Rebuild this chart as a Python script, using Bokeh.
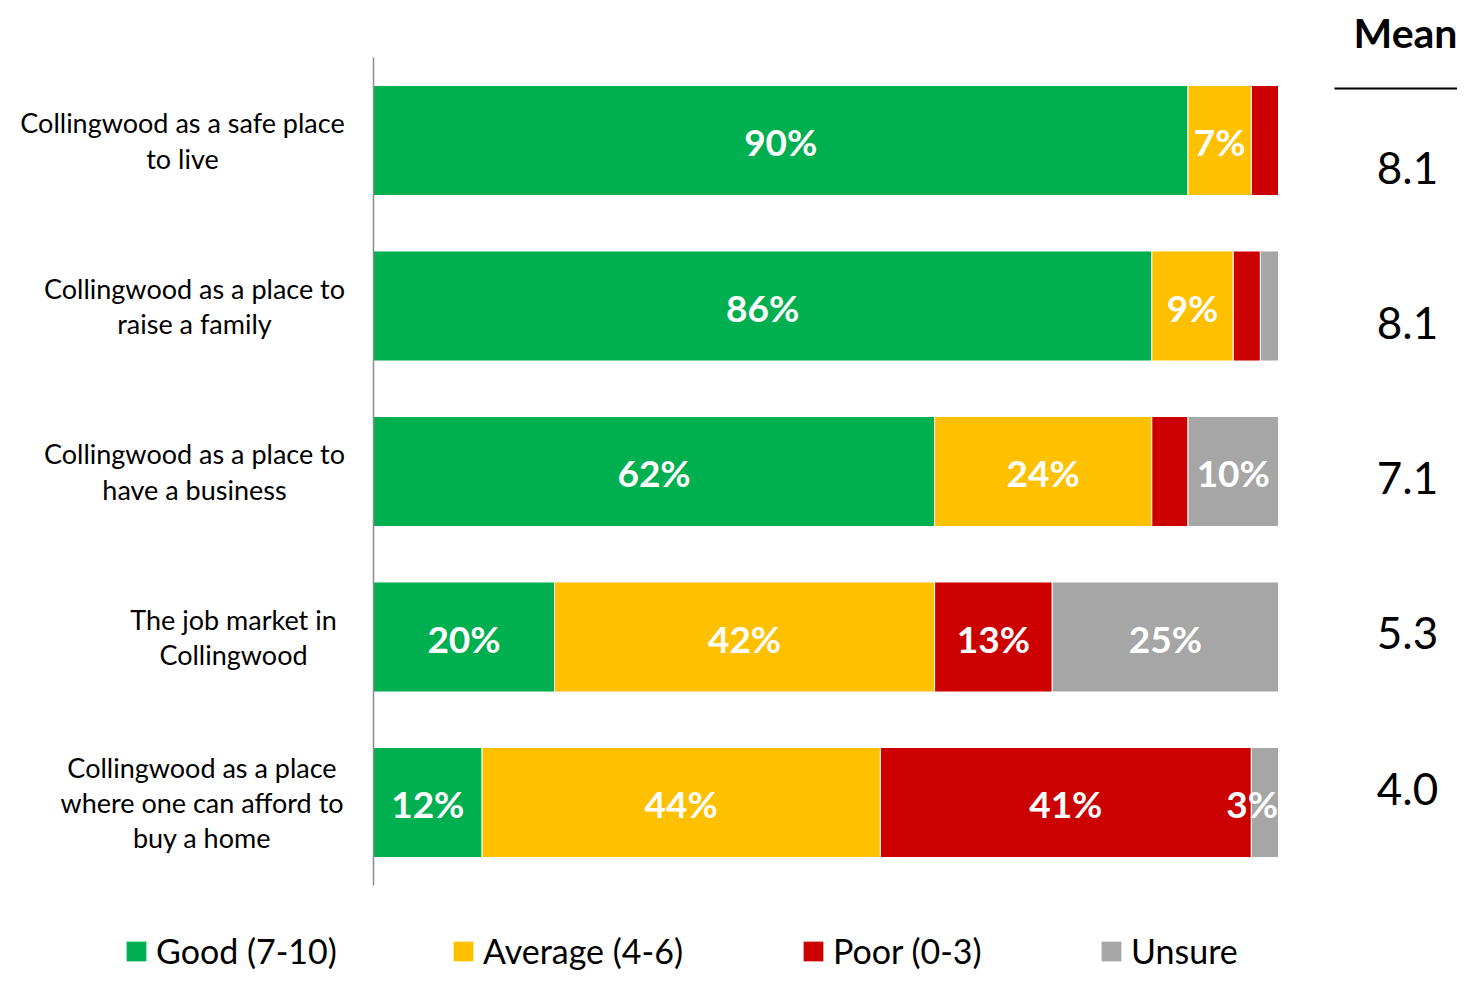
from bokeh.plotting import figure
from bokeh.models import ColumnDataSource, Range1d, Legend, LegendItem
from bokeh.core.properties import value
from bokeh.embed import file_html
from bokeh.resources import INLINE

# ---------------- data ----------------
categories = [
    "Collingwood as a safe place\nto live",
    "Collingwood as a place to\nraise a family",
    "Collingwood as a place to\nhave a business",
    "The job market in\nCollingwood",
    "Collingwood as a place\nwhere one can afford to\nbuy a home",
]
good = [90, 86, 62, 20, 12]
average = [7, 9, 24, 42, 44]
poor = [3, 3, 4, 13, 41]
unsure = [0, 2, 10, 25, 3]
means = ["8.1", "8.1", "7.1", "5.3", "4.0"]
series_names = ["Good (7-10)", "Average (4-6)", "Poor (0-3)", "Unsure"]
series_keys = ["good", "average", "poor", "unsure"]
# labels not drawn in the reference (series, row)
hidden_labels = {("poor", 0), ("poor", 1), ("unsure", 1), ("poor", 2), ("unsure", 0)}

# ---------------- style ----------------
colors = ["#00B050", "#FFC000", "#CC0000", "#A6A6A6"]
FONT = "Lato"
W, H = 1457, 971
PX_PER_PCT = 9.05          # 100% = 905 px
LEFT_PX = 373              # px where 0% sits
ROW0_PX = 140              # px (from top) of first row centre
ROW_PITCH = 165.5

x0 = -LEFT_PX / PX_PER_PCT
x1 = x0 + W / PX_PER_PCT
y_top = -ROW0_PX / ROW_PITCH
y_bot = y_top + H / ROW_PITCH

def px_x(px):   # px -> data x
    return x0 + px / PX_PER_PCT

def px_y(px):   # px from top -> data y
    return y_top + px / ROW_PITCH

p = figure(width=W, height=H, output_backend="svg", toolbar_location=None,
           x_range=Range1d(x0, x1), y_range=Range1d(y_bot, y_top),
           min_border=0, outline_line_color=None)
p.xaxis.visible = False
p.yaxis.visible = False
p.grid.visible = False

rows = list(range(len(categories)))
src = ColumnDataSource(dict(y=rows, good=good, average=average, poor=poor, unsure=unsure))
renderers = p.hbar_stack(series_keys, y="y", height=0.665, color=colors, source=src,
                         line_color="white", line_width=1)

# vertical axis line
p.segment(x0=[0], y0=[px_y(57)], x1=[0], y1=[px_y(885)],
          line_color="#8C8C8C", line_width=1.5)

# data labels
lx, ly, lt = [], [], []
vals = dict(good=good, average=average, poor=poor, unsure=unsure)
for i in rows:
    left = 0
    for k in series_keys:
        v = vals[k][i]
        if v > 0 and (k, i) not in hidden_labels:
            c = left + v / 2
            c = min(c, 100 - 2.9)
            lx.append(c); ly.append(i); lt.append(f"{v}%")
        left += v
p.text(x=lx, y=ly, text=lt, text_color="white", text_font=value(FONT),
       text_font_style="bold", text_font_size="37px", text_align="center",
       text_baseline="middle", y_offset=1)

# category labels (centred multi-line)
cat_cx = [182, 194, 194, 233, 201.5]
p.text(x=[px_x(c) for c in cat_cx], y=rows, text=categories,
       text_font=value(FONT), text_font_size="27px", text_color="#000000",
       text_align="center", text_baseline="middle", text_line_height=1.07)

# Mean column
p.text(x=[px_x(1405)], y=[px_y(32)], text=["Mean"], text_font=value(FONT),
       text_font_style="bold", text_font_size="41px", text_color="#000000",
       text_align="center", text_baseline="middle")
p.segment(x0=[px_x(1334)], y0=[px_y(88)], x1=[px_x(1473)], y1=[px_y(88)],
          line_color="black", line_width=2)
mean_y = [px_y(167 + 155.25 * i) for i in rows]
p.text(x=[px_x(1407)] * len(means), y=mean_y, text=means, text_font=value(FONT),
       text_font_size="44px", text_color="#000000", text_align="center",
       text_baseline="middle")

# legend: one legend per item at the reference positions
leg_x = [123, 450, 800, 1098]
for name, r, lxp in zip(series_names, renderers, leg_x):
    leg = Legend(items=[LegendItem(label=name, renderers=[r])],
                 location=(lxp, 0), orientation="horizontal",
                 glyph_width=26, glyph_height=26, label_standoff=7,
                 label_text_font=FONT, label_text_font_size="34px",
                 label_text_color="#000000", padding=0, margin=0, spacing=0,
                 border_line_alpha=0, background_fill_alpha=0)
    p.add_layout(leg, "center")

open("out.html", "w").write(file_html(p, INLINE))
